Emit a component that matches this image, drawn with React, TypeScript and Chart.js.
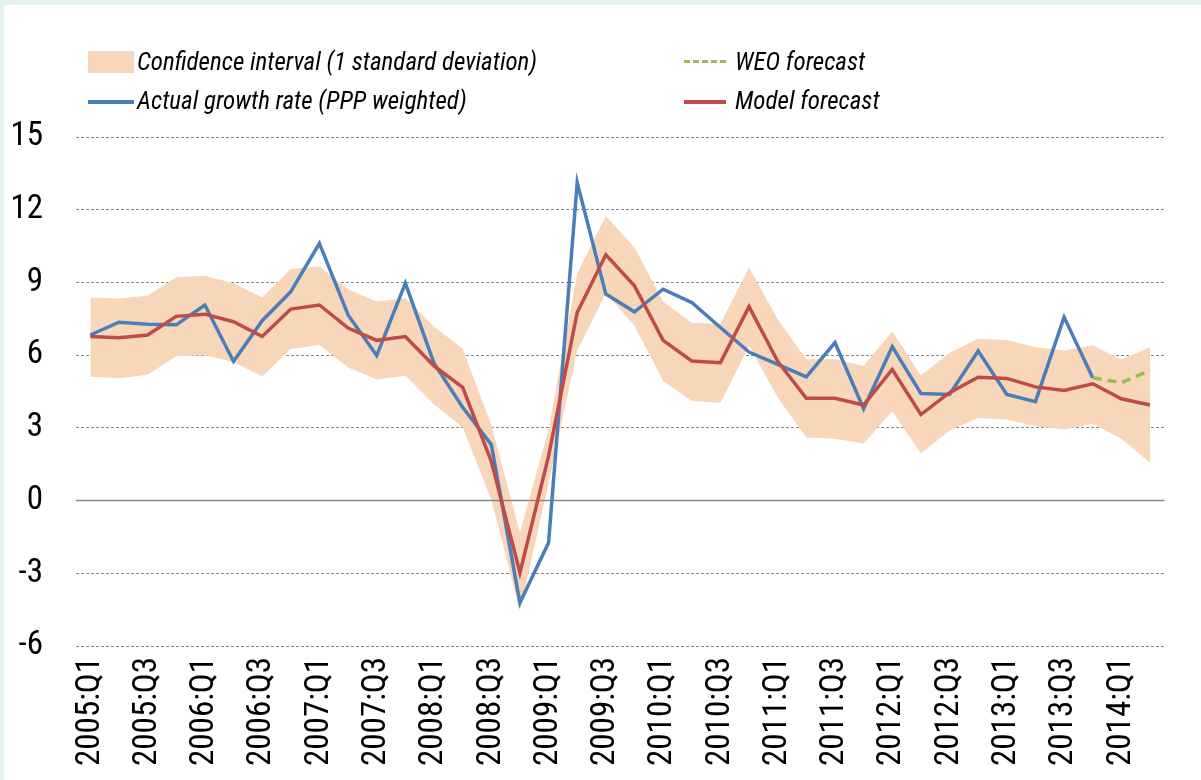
import React, { useEffect, useRef } from "react";
import { Chart, registerables } from "chart.js";

Chart.register(...registerables);

const quarters = [
  "2005:Q1", "2005:Q2", "2005:Q3", "2005:Q4",
  "2006:Q1", "2006:Q2", "2006:Q3", "2006:Q4",
  "2007:Q1", "2007:Q2", "2007:Q3", "2007:Q4",
  "2008:Q1", "2008:Q2", "2008:Q3", "2008:Q4",
  "2009:Q1", "2009:Q2", "2009:Q3", "2009:Q4",
  "2010:Q1", "2010:Q2", "2010:Q3", "2010:Q4",
  "2011:Q1", "2011:Q2", "2011:Q3", "2011:Q4",
  "2012:Q1", "2012:Q2", "2012:Q3", "2012:Q4",
  "2013:Q1", "2013:Q2", "2013:Q3", "2013:Q4",
  "2014:Q1", "2014:Q2",
];

const actualGrowth = [
  6.83, 7.36, 7.27, 7.25, 8.07, 5.74, 7.42, 8.62, 10.61, 7.66,
  5.98, 8.97, 5.67, 3.85, 2.31, -4.22, -1.74, 13.12, 8.52, 7.79,
  8.72, 8.17, 7.14, 6.13, 5.62, 5.1, 6.52, 3.79, 6.35, 4.42,
  4.38, 6.17, 4.38, 4.08, 7.57, 5.07, null, null,
];

const modelForecast = [
  6.77, 6.72, 6.83, 7.6, 7.69, 7.38, 6.77, 7.9, 8.07, 7.12,
  6.61, 6.77, 5.56, 4.67, 1.62, -2.98, 1.83, 7.76, 10.14, 8.86,
  6.61, 5.76, 5.69, 8.0, 5.75, 4.22, 4.22, 3.94, 5.41, 3.55,
  4.45, 5.09, 5.04, 4.69, 4.54, 4.82, 4.2, 3.94,
];

const ciUpper = [
  8.38, 8.34, 8.45, 9.21, 9.28, 8.97, 8.38, 9.55, 9.66, 8.72,
  8.21, 8.35, 7.18, 6.26, 3.13, -1.33, 2.93, 9.38, 11.74, 10.44,
  8.2, 7.34, 7.3, 9.62, 7.48, 5.83, 5.83, 5.55, 6.99, 5.16,
  6.1, 6.68, 6.62, 6.33, 6.19, 6.41, 5.82, 6.33,
];

const ciLower = [
  5.11, 5.05, 5.19, 5.95, 6.0, 5.72, 5.12, 6.25, 6.42, 5.49,
  4.99, 5.16, 3.96, 3.02, 0.04, -4.56, 0.7, 6.2, 8.55, 7.21,
  4.93, 4.11, 4.04, 6.38, 4.25, 2.6, 2.55, 2.35, 3.69, 1.94,
  2.89, 3.41, 3.34, 3.07, 2.93, 3.17, 2.55, 1.56,
];

const weoForecast = [
  null, null, null, null, null, null, null, null, null, null,
  null, null, null, null, null, null, null, null, null, null,
  null, null, null, null, null, null, null, null, null, null,
  null, null, null, null, null, 5.07, 4.86, 5.37,
];

const yTicks = [-6, -3, 0, 3, 6, 9, 12, 15];

const FONT = "Roboto, 'DejaVu Sans Condensed', sans-serif";
const C_BAND = "#f8d6ba";
const C_BLUE = "#4a7ebb";
const C_RED = "#be4b48";
const C_GREEN = "#9bbb59";

const zeroLine = {
  id: "zeroLine",
  beforeDatasetsDraw(chart: any) {
    const { ctx, chartArea } = chart;
    const y = chart.scales.y.getPixelForValue(0);
    ctx.save();
    ctx.strokeStyle = "#868686";
    ctx.lineWidth = 1.5;
    ctx.beginPath();
    ctx.moveTo(chartArea.left, y);
    ctx.lineTo(chartArea.right, y);
    ctx.stroke();
    ctx.restore();
  },
};

const legendText: React.CSSProperties = {
  position: "absolute",
  fontFamily: FONT,
  fontStretch: "condensed",
  fontStyle: "italic",
  fontSize: 25,
  color: "#000",
  whiteSpace: "nowrap",
  lineHeight: "26px",
};

export default function App() {
  const ref = useRef<HTMLCanvasElement>(null);

  useEffect(() => {
    document.body.style.margin = "0";
    const chart = new Chart(ref.current as HTMLCanvasElement, {
      type: "line",
      data: {
        labels: quarters,
        datasets: [
          {
            label: "WEO forecast",
            data: weoForecast as any,
            borderColor: C_GREEN,
            borderWidth: 3.5,
            borderDash: [9, 6],
            pointRadius: 0,
            fill: false,
            order: 0,
          },
          {
            label: "Model forecast",
            data: modelForecast,
            borderColor: C_RED,
            borderWidth: 3.5,
            pointRadius: 0,
            fill: false,
            order: 1,
          },
          {
            label: "Actual growth rate (PPP weighted)",
            data: actualGrowth as any,
            borderColor: C_BLUE,
            borderWidth: 3.5,
            pointRadius: 0,
            fill: false,
            order: 2,
          },
          {
            label: "Confidence interval (1 standard deviation)",
            data: ciUpper,
            borderWidth: 0,
            borderColor: "rgba(0,0,0,0)",
            backgroundColor: C_BAND,
            pointRadius: 0,
            fill: "+1",
            order: 3,
          },
          {
            label: "ci-lower",
            data: ciLower,
            borderWidth: 0,
            borderColor: "rgba(0,0,0,0)",
            pointRadius: 0,
            fill: false,
            order: 4,
          },
        ],
      },
      options: {
        animation: false,
        responsive: false,
        events: [],
        layout: { padding: { left: 4, right: 30, top: 137, bottom: 0 } },
        plugins: {
          legend: { display: false },
          tooltip: { enabled: false },
          filler: { drawTime: "beforeDatasetsDraw" } as any,
        },
        scales: {
          x: {
            offset: true,
            grid: { display: false, drawTicks: false },
            border: { display: false },
            ticks: {
              autoSkip: false,
              minRotation: 90,
              maxRotation: 90,
              padding: 11,
              color: "#000",
              font: { family: FONT, size: 33, weight: "condensed" as any },
              callback: function (this: any, val: any, idx: number) {
                return idx % 2 === 0 ? quarters[idx] : "";
              },
            },
            afterFit: (scale: any) => {
              scale.height = 134;
            },
          },
          y: {
            min: yTicks[0],
            max: yTicks[yTicks.length - 1],
            afterBuildTicks: (scale: any) => {
              scale.ticks = yTicks.map((v) => ({ value: v }));
            },
            grid: { color: "#868686", lineWidth: 1, drawTicks: false },
            border: { display: false, dash: [3, 2] },
            ticks: {
              padding: 33,
              color: "#000",
              font: { family: FONT, size: 33, weight: "condensed" as any },
            },
            afterFit: (scale: any) => {
              scale.width = 72;
            },
          },
        },
      },
      plugins: [zeroLine],
    });
    return () => chart.destroy();
  }, []);

  return (
    <div style={{ position: "absolute", left: 0, top: 0, width: 1201, height: 780, background: "#e2f1eb", overflow: "hidden" }}>
      <div style={{ position: "absolute", left: 4, top: 5, width: 1197, height: 775, background: "#fff" }} />
      <canvas ref={ref} width={1201} height={780} style={{ position: "absolute", left: 0, top: 0, width: 1201, height: 780 }} />
      <div style={{ position: "absolute", left: 88, top: 51, width: 46, height: 22, background: C_BAND }} />
      <div style={{ ...legendText, left: 137, top: 49 }}>Confidence interval (1 standard deviation)</div>
      <div style={{ position: "absolute", left: 88, top: 100, width: 46, height: 3.5, background: C_BLUE }} />
      <div style={{ ...legendText, left: 137, top: 88 }}>Actual growth rate (PPP weighted)</div>
      <div style={{ position: "absolute", left: 684, top: 60, width: 42, height: 0, borderTop: `3.5px dashed ${C_GREEN}` }} />
      <div style={{ ...legendText, left: 735, top: 49 }}>WEO forecast</div>
      <div style={{ position: "absolute", left: 684, top: 100, width: 42, height: 3.5, background: C_RED }} />
      <div style={{ ...legendText, left: 735, top: 88 }}>Model forecast</div>
    </div>
  );
}
